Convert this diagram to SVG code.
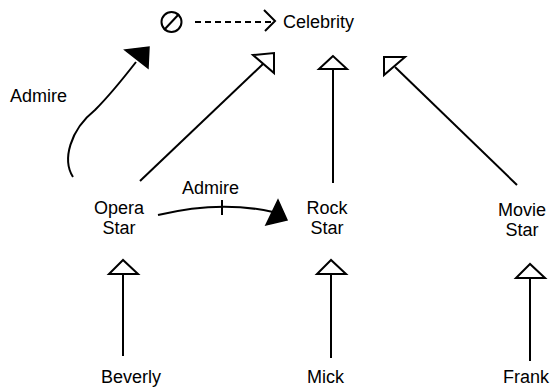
<svg xmlns="http://www.w3.org/2000/svg" width="552" height="387" viewBox="0 0 552 387">
<style>
text{font-family:"Liberation Sans",Arial,Helvetica,sans-serif;font-size:18px;fill:#000}
.ln{stroke:#000;stroke-width:2;fill:none}
.open{stroke:#000;stroke-width:2;fill:#fff;stroke-linejoin:miter}
.fill{stroke:#000;stroke-width:1.5;fill:#000}
</style>
<rect width="552" height="387" fill="#fff"/>
<g id="connectors">
  <line class="ln" x1="195" y1="22" x2="273" y2="22" stroke-dasharray="6,4"/>
  <polyline class="ln" points="264,10 275,21 265,31"/>
  <path class="ln" d="M73,177 C62,160 70,130 95,110 C110,95 122,80 136,62"/>
  <polygon class="fill" points="125,50 149,47 148,68"/>
  <line class="ln" x1="140" y1="181" x2="263" y2="64"/>
  <polygon class="open" points="253,55 274,53 274,73"/>
  <line class="ln" x1="333" y1="69" x2="333" y2="183"/>
  <polygon class="open" points="333,56 319,69 347,69"/>
  <line class="ln" x1="517" y1="185" x2="395" y2="67"/>
  <polygon class="open" points="384,57 405,57 384,75"/>
  <path class="ln" d="M158,215 Q220,200 273,212"/>
  <line class="ln" x1="222" y1="200" x2="222" y2="215"/>
  <polygon class="fill" points="278,200 287,220 266,225"/>
  <text x="182" y="194">Admire</text>
  <line class="ln" x1="123" y1="274" x2="123" y2="356"/>
  <polygon class="open" points="123,260 109,274 138,274"/>
  <line class="ln" x1="331" y1="274" x2="331" y2="358"/>
  <polygon class="open" points="331,260 317,274 346,274"/>
  <line class="ln" x1="530" y1="278" x2="530" y2="361"/>
  <polygon class="open" points="530,264 516,278 545,278"/>
</g>
<g id="null">
  <circle class="ln" cx="171.5" cy="22" r="10"/>
  <line class="ln" x1="164" y1="30" x2="179" y2="14"/>
</g>
<g id="celebrity"><text x="283" y="28">Celebrity</text></g>
<g id="admire-label"><text x="10" y="102">Admire</text></g>
<g id="opera-star"><text x="119" y="214" text-anchor="middle">Opera</text><text x="119" y="234" text-anchor="middle">Star</text></g>
<g id="rock-star"><text x="327" y="214" text-anchor="middle">Rock</text><text x="327" y="234" text-anchor="middle">Star</text></g>
<g id="movie-star"><text x="522" y="216" text-anchor="middle">Movie</text><text x="522" y="236" text-anchor="middle">Star</text></g>
<g id="beverly"><text x="101" y="383">Beverly</text></g>
<g id="mick"><text x="307" y="383">Mick</text></g>
<g id="frank"><text x="503" y="383">Frank</text></g>
</svg>
